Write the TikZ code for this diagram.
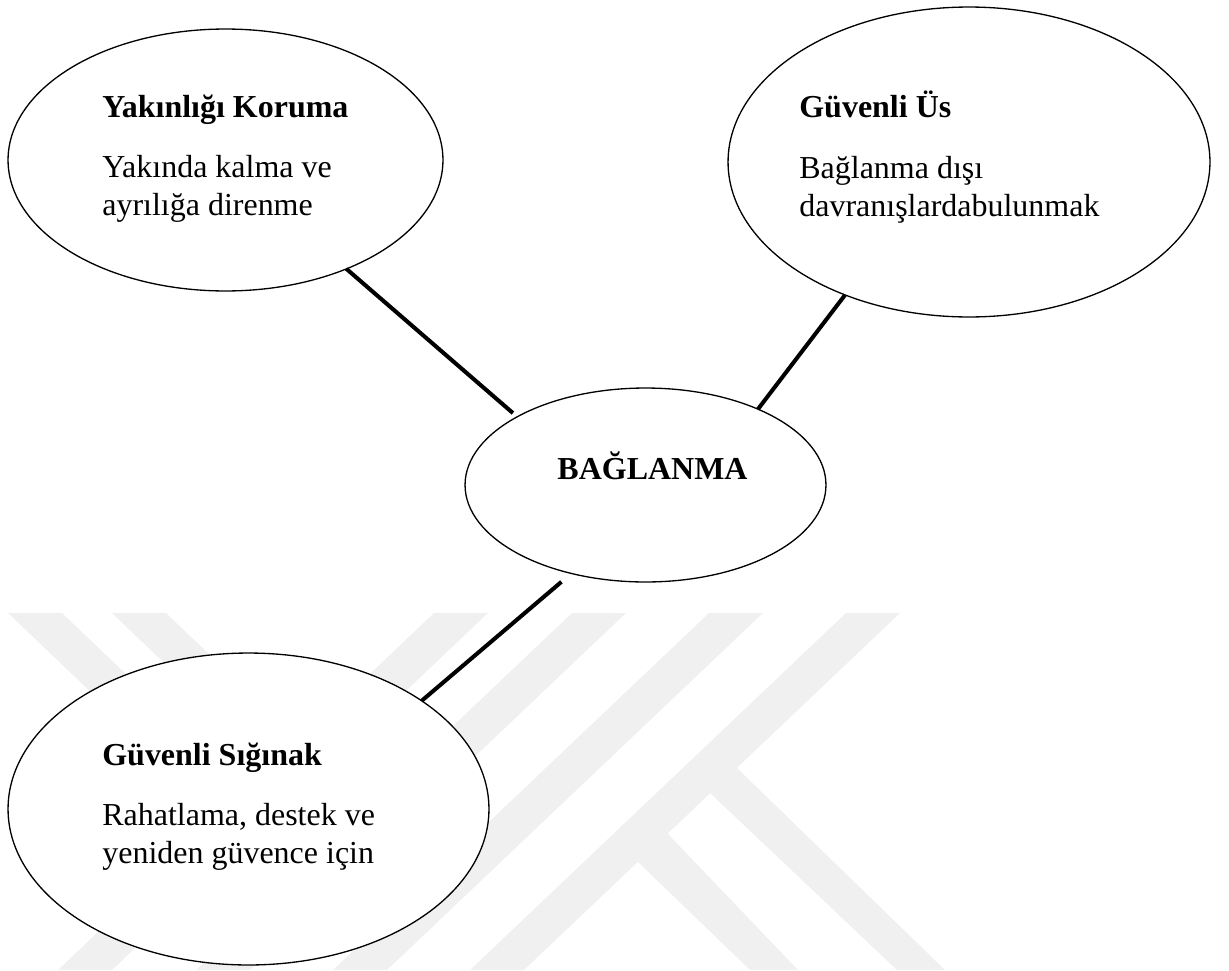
\documentclass[tikz,border=0pt]{standalone}
\usepackage{fontspec}
\setmainfont{Liberation Serif}
\usetikzlibrary{shapes}

\begin{document}
\begin{tikzpicture}[x=0.02cm, y=-0.02cm,
        bubble/.style={ellipse, draw, fill=white, line width=0.75pt, inner sep=0pt, outer sep=0pt},
        txt/.style={anchor=base west, align=left, inner sep=0pt, font=\fontsize{18.2}{21.4}\selectfont},
        link/.style={line width=2.3pt},
        wmark/.style={fill=black!6}]
        \useasboundingbox (0,0) rectangle (1229,970);

        % watermark
        \fill[wmark] (434,613) -- (488,613) -- (112,970) -- (58,970) -- cycle;
        \fill[wmark] (572,613) -- (626,613) -- (250,970) -- (196,970) -- cycle;
        \fill[wmark] (709,613) -- (763,613) -- (387,970) -- (333,970) -- cycle;
        \fill[wmark] (846,613) -- (900,613) -- (524,970) -- (470,970) -- cycle;
        \fill[wmark] (737,768) -- (945,970) -- (897,970) -- (710,793) -- cycle;
        \fill[wmark] (667,833) -- (798,970) -- (750,970) -- (638,862) -- cycle;
        \fill[wmark] (8,613) -- (62,613) -- (300,840) -- (246,840) -- cycle;
        \fill[wmark] (112,613) -- (166,613) -- (330,770) -- (276,770) -- cycle;

        \node[bubble, minimum width=8.70cm, minimum height=5.24cm] (yak) at (225.5,160) {};
        \node[bubble, minimum width=9.64cm, minimum height=6.20cm] (gue) at (969,162) {};
        \node[bubble, minimum width=7.22cm, minimum height=3.88cm] (bag) at (645.5,485) {};
        \node[bubble, minimum width=9.62cm, minimum height=6.24cm] (sig) at (248.5,809) {};

        % multi-line text sits on its last baseline
        \node[txt] (yaktitle) at (102,117) {\textbf{Yakınlığı Koruma}};
        \node[txt] (yakbody) at (102,215) {Yakında kalma ve\\ayrılığa direnme};
        \node[txt] (guetitle) at (799,117) {\textbf{Güvenli Üs}};
        \node[txt] (guebody) at (799,216) {Bağlanma dışı\\davranışlardabulunmak};
        \node[txt, anchor=base] (bagtitle) at (652.5,479) {\textbf{BAĞLANMA}};
        \node[txt] (sigtitle) at (102,765) {\textbf{Güvenli Sığınak}};
        \node[txt] (sigbody) at (102,863) {Rahatlama, destek ve\\yeniden güvence için};

        \path[link] (yak.318.4) edge[shorten >=0.114cm] (bag.152)
                    (gue.227.7) edge (bag.34)
                    (bag.230.4) edge[shorten <=0.26cm] (sig.32.6);
\end{tikzpicture}
\end{document}
